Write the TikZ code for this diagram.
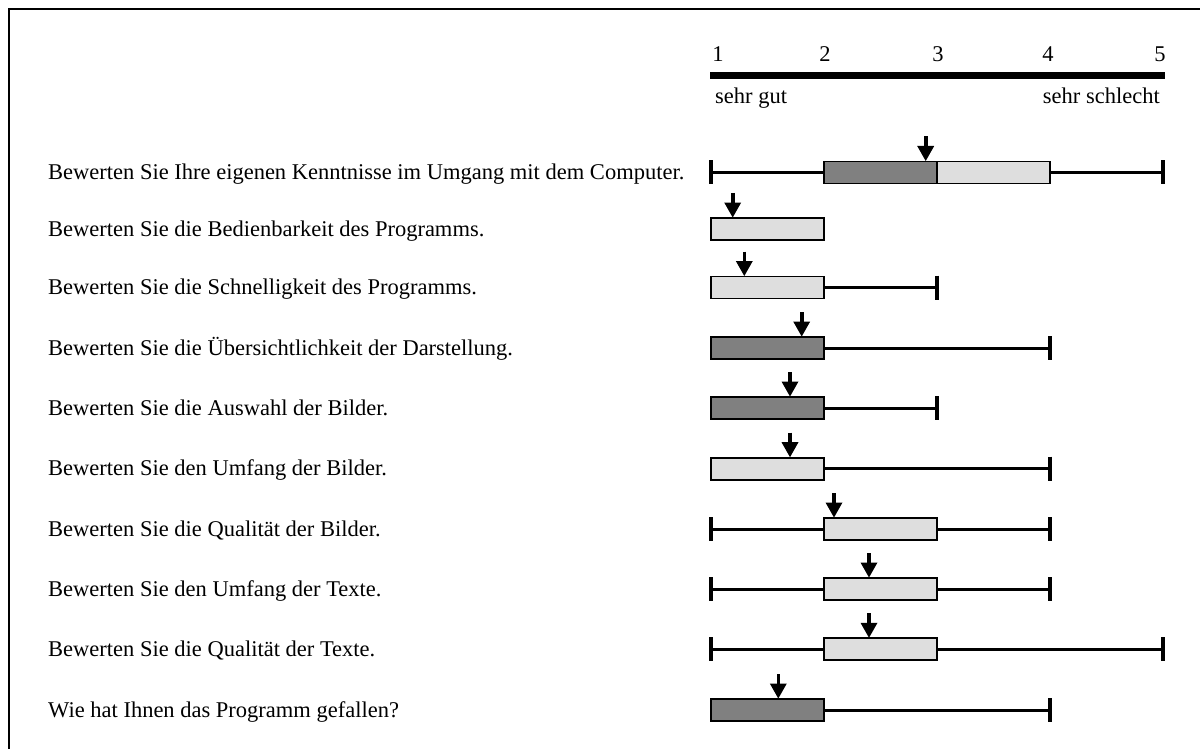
\documentclass[tikz,border=0pt]{standalone}
\usepackage{fontspec}
\setmainfont{Liberation Serif}
\definecolor{darkbox}{HTML}{808080}
\definecolor{lightbox}{HTML}{DEDEDE}
\newcommand{\rowline}[3]{\draw[whisk] (#1,#3) -- (#2,#3);}
\newcommand{\rowend}[2]{\draw[endtick] (#1,#2-12) -- (#1,#2+12);}
\newcommand{\rowdark}[3]{\draw[darkbar] (#1,#3-11) rectangle (#2,#3+11);}
\newcommand{\rowlight}[3]{\draw[lightbar] (#1,#3-11) rectangle (#2,#3+11);}
\newcommand{\rowarrow}[2]{%
  \draw[line width=3.6pt] (#1,#2-36) -- (#1,#2-25);
  \fill[black] (#1-8.5,#2-26.5) -- (#1+8.5,#2-26.5) -- (#1,#2-11.5) -- cycle;}
\begin{document}
\begin{tikzpicture}[x=1pt,y=-1pt,
  lbl/.style={font=\fontsize{22.5}{27}\selectfont, inner sep=0pt},
  whisk/.style={line width=3pt},
  endtick/.style={line width=3.5pt},
  darkbar/.style={fill=darkbox, draw=black, line width=1.8pt},
  lightbar/.style={fill=lightbox, draw=black, line width=1.8pt},
  frame/.style={line width=2pt}]
\useasboundingbox (0,0) rectangle (1200,749);
% frame (top and left edges visible)
\draw[frame] (9,760) -- (9,9) -- (1210,9);
% scale
\draw[line width=7pt] (710,75.5) -- (1165,75.5);
\node[lbl, anchor=base] (s1) at (718,62) {1};
\node[lbl, anchor=base] (s2) at (825,62) {2};
\node[lbl, anchor=base] (s3) at (938,62) {3};
\node[lbl, anchor=base] (s4) at (1048,62) {4};
\node[lbl, anchor=base] (s5) at (1160,62) {5};
\node[lbl, anchor=base west] (good) at (715,104) {sehr gut};
\node[lbl, anchor=base east] (bad) at (1160,104) {sehr schlecht};
% questions
\node[lbl, anchor=base west] (q1) at (48,179.5) {Bewerten Sie Ihre eigenen Kenntnisse im Umgang mit dem Computer.};
\node[lbl, anchor=base west] (q2) at (48,236) {Bewerten Sie die Bedienbarkeit des Programms.};
\node[lbl, anchor=base west] (q3) at (48,294.5) {Bewerten Sie die Schnelligkeit des Programms.};
\node[lbl, anchor=base west] (q4) at (48,355) {Bewerten Sie die Übersichtlichkeit der Darstellung.};
\node[lbl, anchor=base west] (q5) at (48,415) {Bewerten Sie die Auswahl der Bilder.};
\node[lbl, anchor=base west] (q6) at (48,475.7) {Bewerten Sie den Umfang der Bilder.};
\node[lbl, anchor=base west] (q7) at (48,536) {Bewerten Sie die Qualität der Bilder.};
\node[lbl, anchor=base west] (q8) at (48,596) {Bewerten Sie den Umfang der Texte.};
\node[lbl, anchor=base west] (q9) at (48,656.3) {Bewerten Sie die Qualität der Texte.};
\node[lbl, anchor=base west] (q10) at (48,717) {Wie hat Ihnen das Programm gefallen?};
% row 1
\rowline{711}{1163}{172.5}
\rowdark{824}{937}{172.5}
\rowlight{937}{1050}{172.5}
\rowend{711}{172.5}\rowend{1163}{172.5}
\rowarrow{925.7}{172.5}
% row 2
\rowlight{711}{824}{229}
\rowarrow{732.7}{229}
% row 3
\rowline{824}{937}{287.5}
\rowlight{711}{824}{287.5}
\rowend{937}{287.5}
\rowarrow{744.3}{287.5}
% row 4
\rowline{824}{1050}{348}
\rowdark{711}{824}{348}
\rowend{1050}{348}
\rowarrow{801.7}{348}
% row 5
\rowline{824}{937}{408}
\rowdark{711}{824}{408}
\rowend{937}{408}
\rowarrow{790}{408}
% row 6
\rowline{824}{1050}{468.7}
\rowlight{711}{824}{468.7}
\rowend{1050}{468.7}
\rowarrow{790}{468.7}
% row 7
\rowline{711}{1050}{529}
\rowlight{824}{937}{529}
\rowend{711}{529}\rowend{1050}{529}
\rowarrow{834}{529}
% row 8
\rowline{711}{1050}{589}
\rowlight{824}{937}{589}
\rowend{711}{589}\rowend{1050}{589}
\rowarrow{869}{589}
% row 9
\rowline{711}{1163}{649.3}
\rowlight{824}{937}{649.3}
\rowend{711}{649.3}\rowend{1163}{649.3}
\rowarrow{869}{649.3}
% row 10
\rowline{824}{1050}{710}
\rowdark{711}{824}{710}
\rowend{1050}{710}
\rowarrow{778.3}{710}
\end{tikzpicture}
\end{document}
